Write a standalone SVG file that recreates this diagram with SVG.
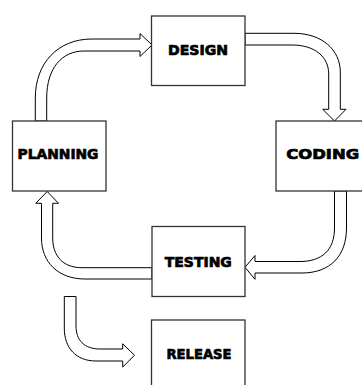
<svg xmlns="http://www.w3.org/2000/svg" width="362" height="385" viewBox="0 0 362 385">
<style>
.box{fill:#fff;stroke:#333;stroke-width:1.3}
.arr{fill:#fff;stroke:#000;stroke-width:1;stroke-linejoin:miter}
.lbl{font-family:"DejaVu Sans","Liberation Sans",sans-serif;font-weight:bold;font-size:14px;fill:#000;stroke:#000;stroke-width:0.7;text-anchor:middle}
</style>
<rect width="362" height="385" fill="#fff"/>
<g id="connectors">
<path class="arr" d="M35.3,121 V98 C35.3,63 58,39 92,39 H140 V33.5 L152,45 L140,56.5 V51 H84 C62,51 46.7,68 46.7,98 V121 Z"/>
<path class="arr" d="M245,33.3 H294 C322,33.3 340.3,50 340.3,72 V109.3 H346 L334.5,121 L322.7,109.3 H328.7 V74 C328.7,57 315,45 292,45 H245 Z"/>
<path class="arr" d="M334.5,191 V228 C334.5,250 322,261.5 300,261.5 H255 V255.5 L245,267.3 L255,279.3 V273 H302 C330,273 346.5,256 346.5,228 V191 Z"/>
<path class="arr" d="M152,267.7 H82 C62,267.7 52.7,255 52.7,238 V203.3 H58.5 L47.2,191.5 L35.8,203.3 H41.5 V238 C41.5,262 58,279 85,279 H152 Z"/>
<path class="arr" d="M64.3,296.5 H76 V326 C76,340 84,349 100,349 H122.7 V343.8 L134.5,355.3 L122.7,367 V361 H96 C76,361 64.3,348 64.3,328 Z"/>
</g>
<g id="planning">
<rect class="box" x="12.5" y="121" width="93.5" height="70"/>
<text class="lbl" x="58" y="159" textLength="81" lengthAdjust="spacingAndGlyphs">PLANNING</text>
</g>
<g id="design">
<rect class="box" x="151.5" y="16" width="93.5" height="69.5"/>
<text class="lbl" x="198" y="55" textLength="60" lengthAdjust="spacingAndGlyphs">DESIGN</text>
</g>
<g id="coding">
<rect class="box" x="276" y="121" width="93.5" height="70"/>
<text class="lbl" x="322.7" y="159" textLength="73" lengthAdjust="spacingAndGlyphs">CODING</text>
</g>
<g id="testing">
<rect class="box" x="152" y="226.5" width="93" height="70"/>
<text class="lbl" x="198.3" y="266.7" textLength="67" lengthAdjust="spacingAndGlyphs">TESTING</text>
</g>
<g id="release">
<rect class="box" x="151.5" y="320" width="93.5" height="80"/>
<text class="lbl" x="199" y="359" textLength="65" lengthAdjust="spacingAndGlyphs">RELEASE</text>
</g>
</svg>
